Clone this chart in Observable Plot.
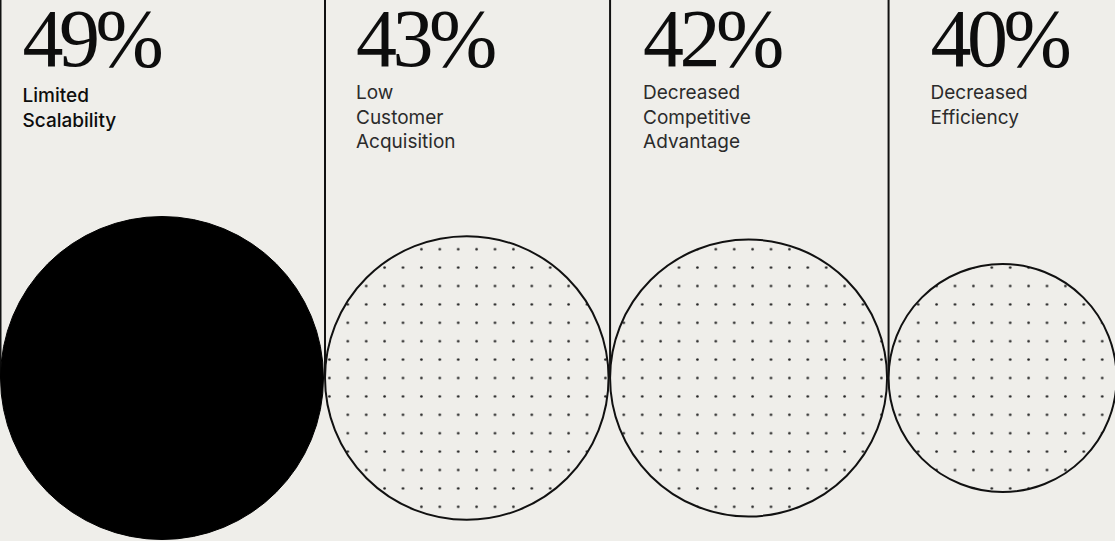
<!DOCTYPE html>
<html><head><meta charset="utf-8">
<script src="https://cdn.jsdelivr.net/npm/d3@7"></script>
<script src="https://cdn.jsdelivr.net/npm/@observablehq/plot@0.6"></script>
<style>
html,body{margin:0;padding:0;background:#efeeea;overflow:hidden}
#chart svg{display:block}
g[font-family="Liberation Serif"] text{letter-spacing:-4.5px}
</style></head><body><div id="chart"></div>
<script>
// ---- data ----
const categories = ["Limited Scalability", "Low Customer Acquisition", "Decreased Competitive Advantage", "Decreased Efficiency"];
const labelLines = [["Limited", "Scalability"], ["Low", "Customer", "Acquisition"], ["Decreased", "Competitive", "Advantage"], ["Decreased", "Efficiency"]];
const values = [49, 43, 42, 40];
const valueLabels = ["49%", "43%", "42%", "40%"];

// ---- layout (not data) ----
const W = 1115, H = 541;
const rDomain = [40, 42, 49];          // piecewise radius scale
const rRange = [114, 138.5, 161.5];
const radius = d3.scaleLinear().domain(rDomain).range(rRange);
const gap = 1.5, cy = 377.5;
const labelInset = [22, 31, 33, 42];
const spacing = 18.4;

let acc = 0;
const rows = values.map((v, i) => {
  const r = radius(v);
  const left = acc + (i ? gap : 0);
  acc = left + 2 * r;
  return {i, cat: categories[i], v, pct: valueLabels[i], text: labelLines[i].join("\n"), left, cx: left + r};
});

const chart = Plot.plot({
  width: W, height: H,
  margin: 0,
  style: {background: "#efeeea", overflow: "visible"},
  x: {type: "linear", domain: [0, W], range: [0, W], axis: null},
  y: {type: "linear", domain: [0, H], range: [0, H], axis: null},
  r: {type: "linear", domain: rDomain, range: rRange},
  marks: [
    Plot.ruleX(rows, {x: "left", y1: 0, y2: cy, stroke: "#111", strokeWidth: 2}),
    Plot.dot(rows, {filter: d => d.i === 0, x: "cx", y: cy, r: "v", fill: "#000", stroke: "#000", strokeWidth: 1}),
    Plot.dot(rows, {filter: d => d.i > 0, x: "cx", y: cy, r: "v", fill: "url(#dotgrid)", stroke: "#111", strokeWidth: 2}),
    Plot.text(rows, {x: d => d.left + labelInset[d.i], y: 65, text: "pct", textAnchor: "start", lineAnchor: "bottom",
      fontFamily: "Liberation Serif", fontSize: 82, fill: "#0d0d0d"}),
    Plot.text(rows, {filter: d => d.i === 0, x: d => d.left + labelInset[d.i], y: 84, text: "text", textAnchor: "start", lineAnchor: "top",
      fontFamily: "Inter", fontSize: 19, fontWeight: 500, lineHeight: 1.3, fill: "#0d0d0d"}),
    Plot.text(rows, {filter: d => d.i > 0, x: d => d.left + labelInset[d.i], y: 81, text: "text", textAnchor: "start", lineAnchor: "top",
      fontFamily: "Inter", fontSize: 19, fontWeight: 400, lineHeight: 1.3, fill: "#2b2b2b"})
  ]
});

// dot-grid pattern used as fill
const svg = d3.select(chart);
const defs = svg.insert("defs", ":first-child");
const x0 = ((347.3 - spacing / 2) % spacing), y0 = ((cy - spacing / 2) % spacing);
const pat = defs.append("pattern").attr("id", "dotgrid").attr("patternUnits", "userSpaceOnUse")
  .attr("x", x0).attr("y", y0).attr("width", spacing).attr("height", spacing);
pat.append("rect").attr("width", spacing).attr("height", spacing).attr("fill", "#efeeea");
pat.append("circle").attr("cx", spacing / 2).attr("cy", spacing / 2).attr("r", 1.3).attr("fill", "#1e1e1e");

document.getElementById("chart").appendChild(chart);
</script></body></html>
